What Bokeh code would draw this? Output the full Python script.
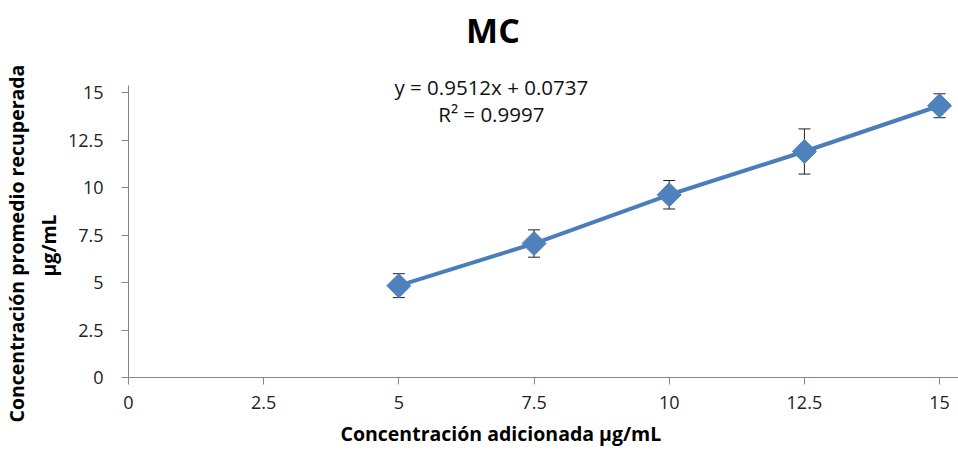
from bokeh.plotting import figure
from bokeh.models import ColumnDataSource, Whisker, TeeHead, FixedTicker, Label, Range1d, Title
from bokeh.embed import file_html
from bokeh.resources import INLINE
import math

# Added concentration (µg/mL) and mean recovered concentration with its deviation
added = [5, 7.5, 10, 12.5, 15]
recovered = [4.84, 7.06, 9.63, 11.91, 14.32]
deviation = [0.63, 0.72, 0.75, 1.19, 0.63]

tick_values = [0, 2.5, 5, 7.5, 10, 12.5, 15]
tick_labels = ["0", "2.5", "5", "7.5", "10", "12.5", "15"]

title_text = "MC"
equation_text = "y = 0.9512x + 0.0737"
r2_text = "R² = 0.9997"
x_title = "Concentración adicionada µg/mL"
y_title_lines = ["Concentración promedio recuperada", "µg/mL"]

FONT = "Open Sans"
BLUE = "#4F81BD"
LABEL_SIZE = "19.5px"

src = ColumnDataSource(dict(
    x=added, y=recovered,
    lo=[m - d for m, d in zip(recovered, deviation)],
    hi=[m + d for m, d in zip(recovered, deviation)],
))

# The frame reaches almost to the top so the title and equation can live inside it;
# the y axis line itself is bounded to 0..15.4
p = figure(width=958, height=453, output_backend="svg", toolbar_location=None,
           x_range=Range1d(0, 15.35), y_range=Range1d(0, 19.34),
           min_border_left=128, min_border_right=0, min_border_top=10, min_border_bottom=75)
p.outline_line_color = None
p.xgrid.visible = False
p.ygrid.visible = False
p.background_fill_color = "white"
p.border_fill_color = "white"

for ax in (p.xaxis[0], p.yaxis[0]):
    ax.ticker = FixedTicker(ticks=tick_values)
    ax.major_label_overrides = {v: s for v, s in zip(tick_values, tick_labels)}
    ax.minor_tick_line_color = None
    ax.axis_line_color = "#868686"
    ax.major_tick_line_color = "#868686"
    ax.major_tick_out = 7
    ax.major_tick_in = 0
    ax.major_label_text_font = FONT
    ax.major_label_text_font_size = "18px"
    ax.major_label_text_color = "#222222"

p.yaxis[0].bounds = (0, 15.4)
p.yaxis[0].major_label_standoff = 18
p.xaxis[0].major_label_standoff = 11

# Axis titles as side titles so they can be placed off the frame centre
p.add_layout(Title(text=x_title, align="left", offset=212, standoff=13,
                   text_font=FONT, text_font_style="bold", text_font_size=LABEL_SIZE,
                   text_color="#000000"), "below")
p.add_layout(Title(text=y_title_lines[1], align="left", offset=101, standoff=6,
                   text_font=FONT, text_font_style="bold", text_font_size=LABEL_SIZE,
                   text_color="#000000"), "left")
p.add_layout(Title(text=y_title_lines[0], align="left", offset=-45, standoff=0,
                   text_font=FONT, text_font_style="bold", text_font_size=LABEL_SIZE,
                   text_color="#000000"), "left")

# Chart title
p.add_layout(Label(x=6.74, y=18.32, text=title_text, text_font=FONT,
                   text_font_style="bold", text_font_size="34px",
                   text_align="center", text_baseline="middle", text_color="#000000"))

# Trendline equation
p.add_layout(Label(x=6.71, y=15.29, text=equation_text, text_font=FONT,
                   text_font_size="20.5px", text_align="center", text_baseline="middle",
                   text_color="#111111"))
p.add_layout(Label(x=6.71, y=13.87, text=r2_text, text_font=FONT,
                   text_font_size="20.5px", text_align="center", text_baseline="middle",
                   text_color="#111111"))

# Error bars
p.add_layout(Whisker(source=src, base="x", upper="hi", lower="lo",
                     line_color="#222222", line_width=1,
                     upper_head=TeeHead(size=12, line_color="#222222", line_width=1),
                     lower_head=TeeHead(size=12, line_color="#222222", line_width=1)))

p.line("x", "y", source=src, line_color="#4A7EBB", line_width=4)
p.scatter("x", "y", source=src, marker="square", angle=math.pi / 4, size=17,
          fill_color=BLUE, line_color=BLUE)

open("out.html", "w").write(file_html(p, INLINE))
